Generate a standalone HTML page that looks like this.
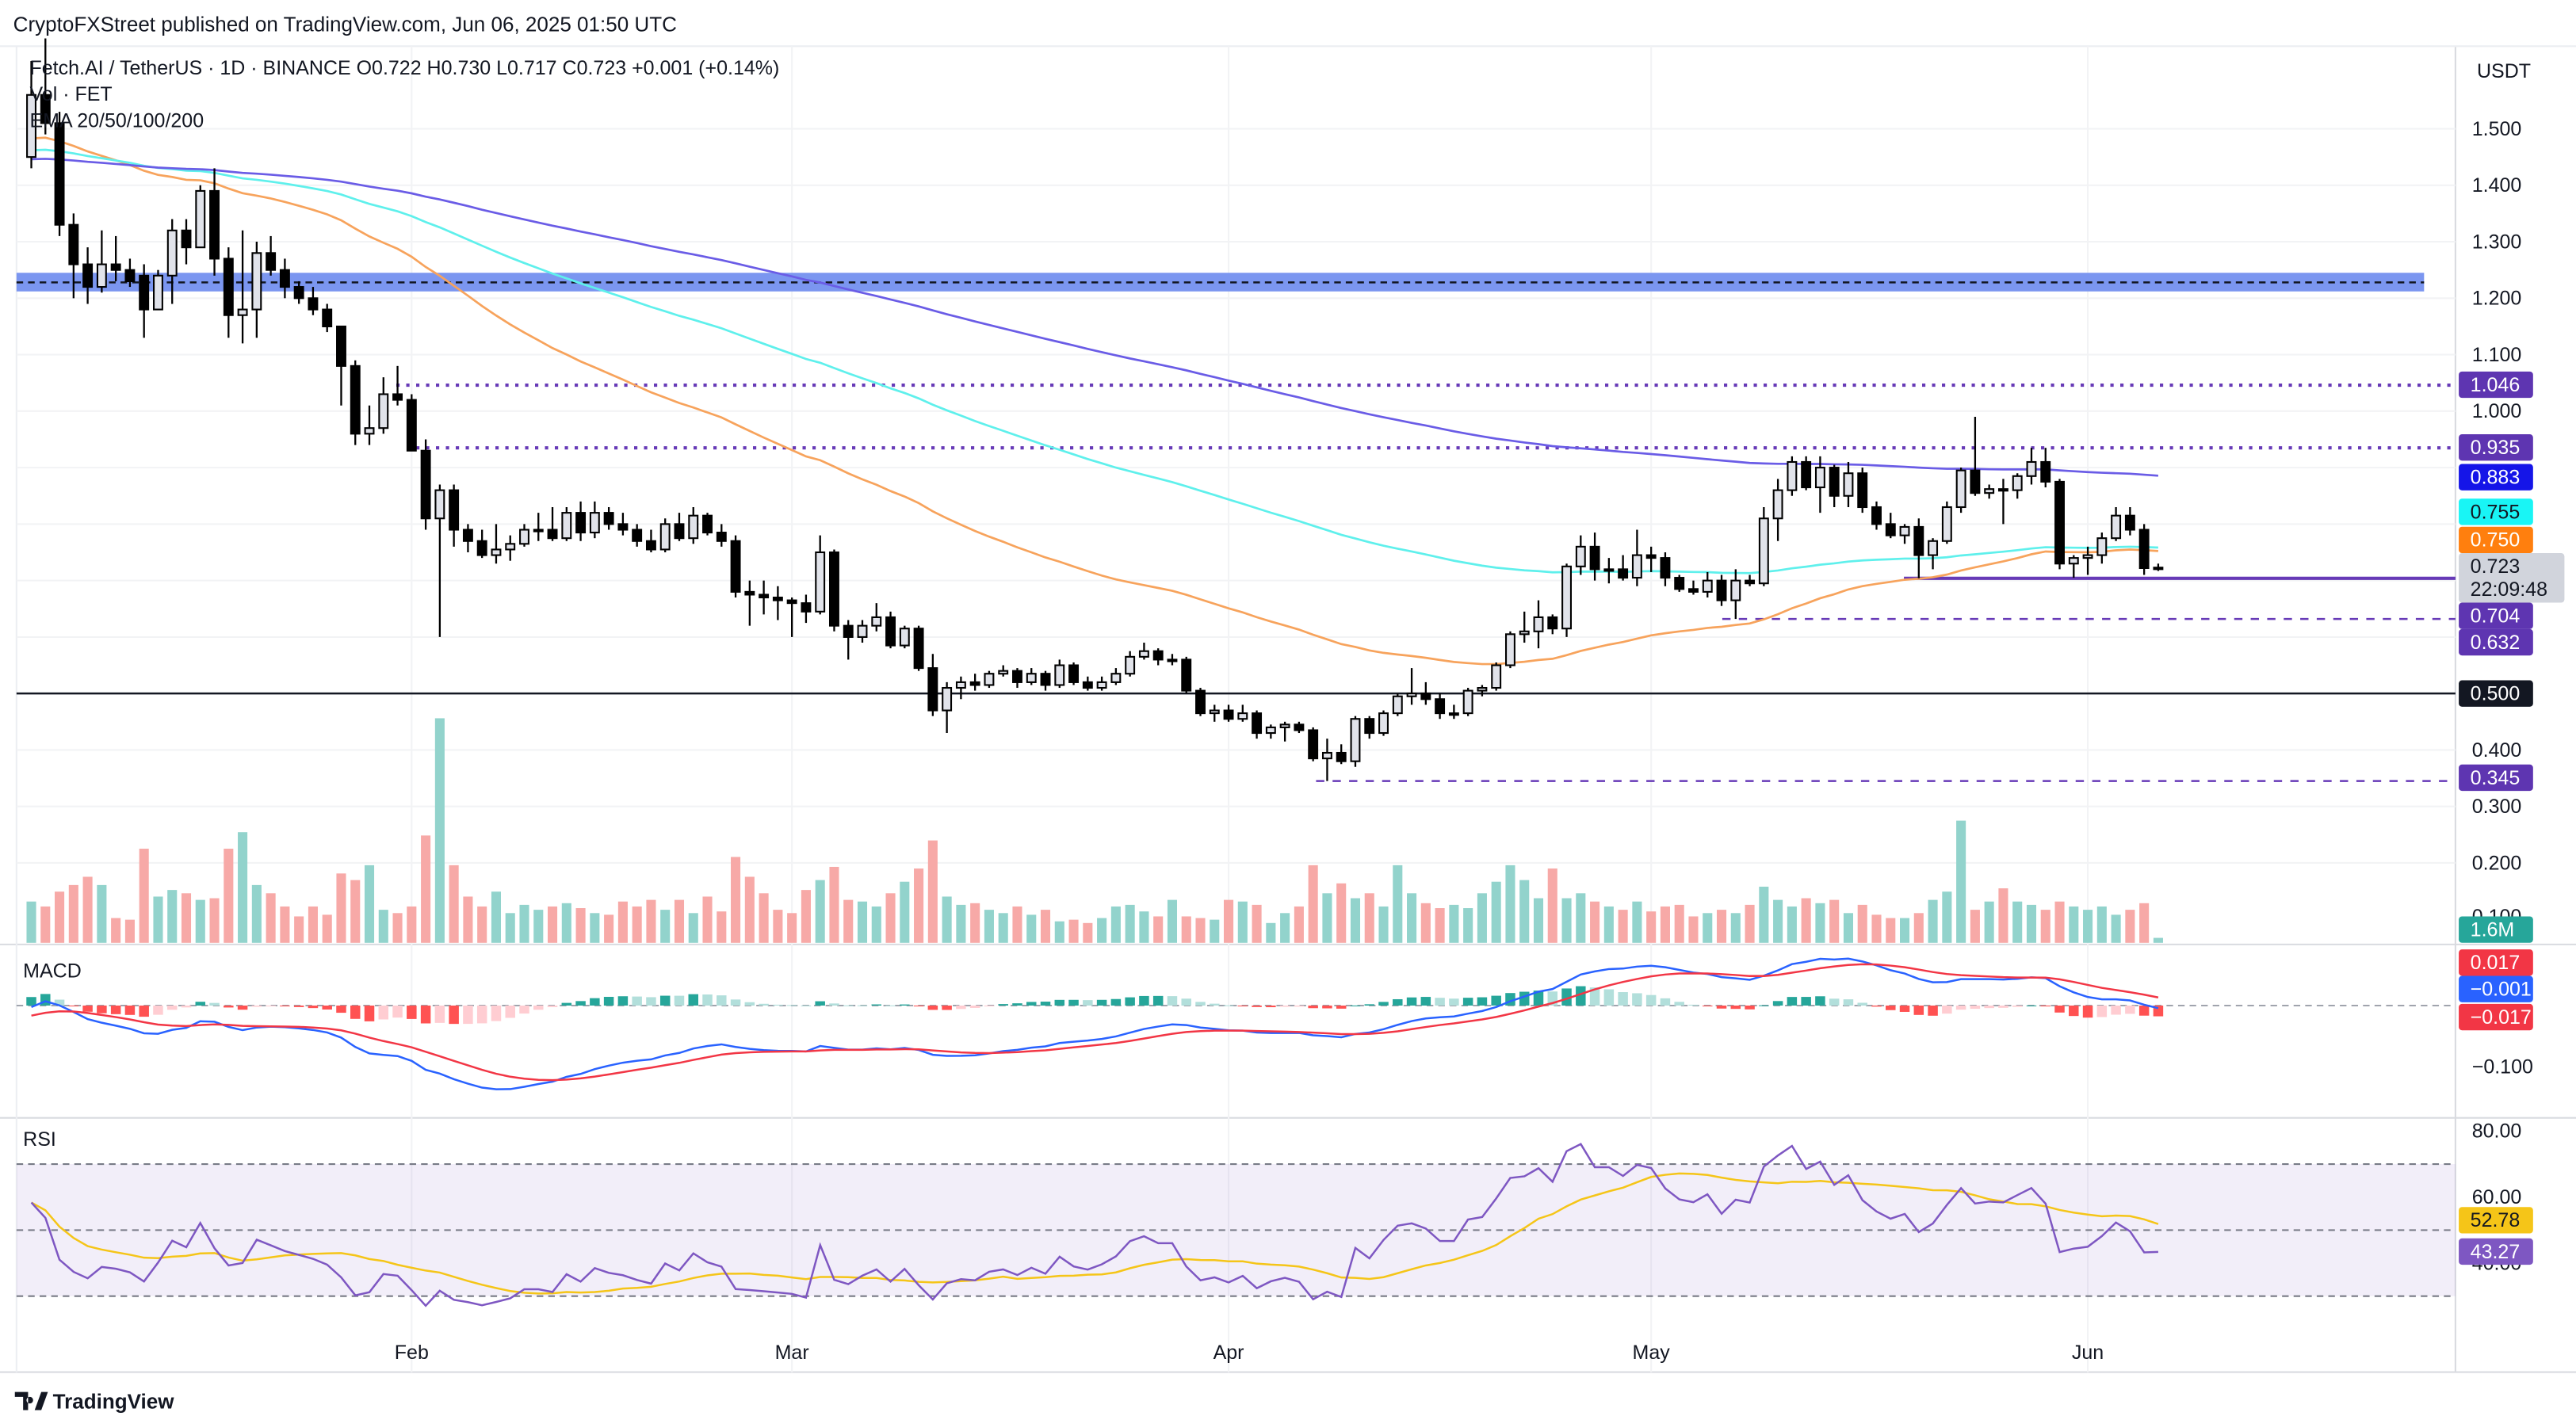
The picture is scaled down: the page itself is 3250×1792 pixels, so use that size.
<!DOCTYPE html>
<html><head><meta charset="utf-8"><style>
html,body{margin:0;padding:0;background:#fff;}
svg{display:block;font-family:"Liberation Sans",sans-serif;}
</style></head><body>
<svg id="chart" width="3250" height="1792" viewBox="0 0 1560 860" preserveAspectRatio="none" xmlns="http://www.w3.org/2000/svg">
<rect x="0" y="0" width="1560" height="860" fill="#ffffff"/>
<text x="8" y="19" font-size="12.5" fill="#131722">CryptoFXStreet published on TradingView.com, Jun 06, 2025 01:50 UTC</text>
<g id="grid"></g>
<g id="zones"></g>
<g id="plot"></g>
<g id="axis"></g>
<g font-size="12" fill="#131722">
<text x="18" y="45">Fetch.AI / TetherUS · 1D · BINANCE  O0.722  H0.730  L0.717  C0.723  +0.001 (+0.14%)</text>
<text x="18" y="61">Vol · FET</text>
<text x="18" y="77">EMA 20/50/100/200</text>
<text x="14" y="592">MACD</text>
<text x="14" y="694">RSI</text>
</g>
<g>
<path d="M9 843h8v11h-3v-8h-5z M18 846a2 2 0 1 0 0.1 0z M21 854l4-11h4l-4 11z" fill="#131722"/>
<text x="32" y="853" font-size="12.5" font-weight="bold" fill="#131722">TradingView</text>
</g>
</svg>
<script>
const opens=[1.45,1.56,1.51,1.33,1.26,1.22,1.26,1.25,1.24,1.18,1.24,1.32,1.29,1.39,1.27,1.17,1.18,1.28,1.25,1.22,1.20,1.18,1.15,1.08,0.96,0.97,1.03,1.02,0.93,0.81,0.86,0.79,0.77,0.745,0.755,0.765,0.79,0.79,0.775,0.82,0.785,0.82,0.80,0.79,0.77,0.755,0.80,0.775,0.815,0.785,0.77,0.68,0.675,0.67,0.665,0.66,0.645,0.75,0.62,0.60,0.62,0.635,0.585,0.615,0.545,0.47,0.51,0.52,0.515,0.535,0.54,0.52,0.535,0.515,0.55,0.52,0.51,0.52,0.535,0.565,0.575,0.56,0.56,0.505,0.465,0.47,0.455,0.465,0.43,0.44,0.445,0.435,0.385,0.395,0.38,0.455,0.43,0.465,0.495,0.50,0.49,0.465,0.465,0.505,0.51,0.55,0.605,0.61,0.635,0.615,0.725,0.76,0.72,0.72,0.705,0.745,0.74,0.705,0.685,0.68,0.70,0.665,0.70,0.695,0.81,0.86,0.91,0.865,0.90,0.85,0.89,0.83,0.80,0.78,0.795,0.745,0.77,0.83,0.895,0.855,0.862,0.86,0.885,0.91,0.875,0.73,0.74,0.745,0.775,0.815,0.79,0.722];
const highs=[1.62,1.66,1.53,1.35,1.29,1.32,1.31,1.27,1.26,1.25,1.34,1.34,1.40,1.43,1.29,1.32,1.30,1.31,1.27,1.23,1.22,1.19,1.15,1.09,1.01,1.06,1.08,1.03,0.95,0.87,0.87,0.80,0.79,0.80,0.78,0.80,0.82,0.83,0.83,0.84,0.84,0.83,0.82,0.80,0.79,0.81,0.82,0.83,0.82,0.80,0.78,0.70,0.70,0.69,0.67,0.675,0.78,0.755,0.63,0.63,0.66,0.645,0.62,0.62,0.57,0.52,0.53,0.535,0.54,0.55,0.545,0.545,0.54,0.56,0.555,0.53,0.53,0.545,0.575,0.59,0.58,0.57,0.565,0.51,0.48,0.48,0.48,0.47,0.445,0.45,0.45,0.44,0.42,0.41,0.46,0.46,0.47,0.50,0.545,0.52,0.50,0.48,0.51,0.515,0.555,0.61,0.645,0.665,0.64,0.73,0.78,0.785,0.74,0.745,0.79,0.76,0.75,0.71,0.70,0.715,0.71,0.72,0.71,0.83,0.88,0.92,0.92,0.92,0.905,0.91,0.90,0.84,0.82,0.80,0.81,0.775,0.84,0.90,0.99,0.87,0.88,0.89,0.935,0.935,0.88,0.745,0.76,0.785,0.83,0.83,0.80,0.730];
const lows=[1.43,1.49,1.31,1.20,1.19,1.21,1.23,1.22,1.13,1.18,1.19,1.26,1.29,1.24,1.13,1.12,1.13,1.24,1.20,1.19,1.17,1.14,1.01,0.94,0.94,0.96,1.01,0.93,0.79,0.60,0.76,0.75,0.74,0.73,0.735,0.76,0.77,0.77,0.77,0.77,0.775,0.79,0.78,0.76,0.75,0.75,0.77,0.765,0.78,0.76,0.67,0.62,0.64,0.63,0.60,0.625,0.64,0.61,0.56,0.59,0.61,0.58,0.58,0.54,0.46,0.43,0.49,0.505,0.51,0.53,0.51,0.515,0.505,0.51,0.515,0.505,0.505,0.515,0.53,0.56,0.55,0.55,0.50,0.46,0.45,0.45,0.45,0.42,0.42,0.415,0.43,0.38,0.345,0.375,0.37,0.42,0.425,0.46,0.48,0.48,0.455,0.455,0.46,0.495,0.505,0.545,0.59,0.58,0.605,0.60,0.71,0.70,0.695,0.70,0.69,0.715,0.69,0.68,0.675,0.67,0.655,0.632,0.69,0.69,0.77,0.85,0.86,0.82,0.83,0.83,0.82,0.79,0.775,0.765,0.704,0.72,0.765,0.82,0.85,0.845,0.80,0.845,0.87,0.865,0.72,0.705,0.71,0.73,0.77,0.78,0.71,0.717];
const closes=[1.56,1.51,1.33,1.26,1.22,1.26,1.25,1.23,1.18,1.24,1.32,1.29,1.39,1.27,1.17,1.18,1.28,1.25,1.22,1.20,1.18,1.15,1.08,0.96,0.97,1.03,1.02,0.93,0.81,0.86,0.79,0.77,0.745,0.755,0.765,0.79,0.79,0.775,0.82,0.785,0.82,0.80,0.79,0.77,0.755,0.80,0.775,0.815,0.785,0.77,0.68,0.675,0.67,0.665,0.66,0.645,0.75,0.62,0.60,0.62,0.635,0.585,0.615,0.545,0.47,0.51,0.52,0.515,0.535,0.54,0.52,0.535,0.515,0.55,0.52,0.51,0.52,0.535,0.565,0.575,0.56,0.56,0.505,0.465,0.47,0.455,0.465,0.43,0.44,0.445,0.435,0.385,0.395,0.38,0.455,0.43,0.465,0.495,0.50,0.49,0.465,0.465,0.505,0.51,0.55,0.605,0.61,0.635,0.615,0.725,0.76,0.72,0.72,0.705,0.745,0.74,0.705,0.685,0.68,0.70,0.665,0.70,0.695,0.81,0.86,0.91,0.865,0.90,0.85,0.89,0.83,0.80,0.78,0.795,0.745,0.77,0.83,0.895,0.855,0.862,0.86,0.885,0.91,0.875,0.73,0.74,0.745,0.775,0.815,0.79,0.722,0.723];
const volumes=[25,22,31,35,40,35,15,14,57,28,32,30,26,27,57,67,35,30,22,16,22,17,42,38,47,20,18,22,65,136,47,28,22,31,18,23,20,22,24,21,18,17,25,22,26,20,26,18,28,19,52,40,30,20,18,32,38,46,26,25,22,30,37,45,62,28,23,24,20,18,22,17,20,13,14,12,15,22,23,19,16,26,16,15,14,26,25,23,12,18,22,47,30,36,27,30,22,47,30,24,21,23,21,30,37,47,38,27,45,27,30,25,22,20,25,19,22,23,16,18,20,18,23,34,26,22,27,24,26,18,23,17,15,15,18,26,31,74,20,25,33,25,23,20,25,22,20,22,17,20,24,3];
const monthLabels=["Feb","Mar","Apr","May","Jun"];
const monthIndex=[27,54,85,115,146];
const priceTicks=[1.5,1.4,1.3,1.2,1.1,1.0,0.4,0.3,0.2];
const emaSeeds=[1.48,1.46,1.445];

const NS="http://www.w3.org/2000/svg";
const plot=document.getElementById('plot'),grid=document.getElementById('grid'),zones=document.getElementById('zones'),axis=document.getElementById('axis');
function el(t,a,p){const e=document.createElementNS(NS,t);for(const k in a)e.setAttribute(k,a[k]);(p||plot).appendChild(e);return e;}
const N=closes.length, DX=8.53, XL=1307;
const xOf=i=>XL-(N-1-i)*DX;
const yP=p=>249+(1-p)*342;
const yM=m=>609-m*370;
const yR=r=>745-(r-50)*2;
const VB=571;

[572,677,831].forEach(y=>{const l=el('line',{x1:0,x2:1560,y1:y,y2:y,stroke:'#d9dbe0','stroke-width':1},grid);});
el('line',{x1:1487,x2:1487,y1:28,y2:831,stroke:'#d9dbe0'},grid);
el('line',{x1:10,x2:10,y1:28,y2:831,stroke:'#eceef2'},grid);
el('line',{x1:0,x2:1560,y1:28,y2:28,stroke:'#eceef2'},grid);
for(let p=0.2;p<=1.55;p+=0.1){el('line',{x1:10,x2:1487,y1:yP(p),y2:yP(p),stroke:'#f2f3f5'},grid);}
monthIndex.forEach((mi,k)=>{const x=xOf(mi);el('line',{x1:x,x2:x,y1:28,y2:831,stroke:'#f2f3f5'},grid);
 const t=el('text',{x:x,y:823,'font-size':12,'text-anchor':'middle',fill:'#131722'},axis);t.textContent=monthLabels[k];
 });

const zr=el('rect',{x:10,y:yP(1.245),width:1458,height:yP(1.212)-yP(1.245),fill:'#7b96f0'},zones);

el('line',{x1:10,x2:1468,y1:yP(1.228),y2:yP(1.228),stroke:'#131722','stroke-dasharray':'4 3','stroke-width':1.2},zones);
function hl(p,x1,dash,w,col,name){const l=el('line',{x1:x1,x2:1487,y1:yP(p),y2:yP(p),stroke:col,'stroke-width':w},zones);if(dash)l.setAttribute('stroke-dasharray',dash);}
hl(1.046,240,'2 4',2,'#673ab7','level-1-046');
hl(0.935,252,'2 4',2,'#673ab7','level-0-935');
hl(0.704,1153,'',2,'#673ab7','support-0-704');
hl(0.632,1043,'5 5',1.2,'#673ab7','level-0-632');
hl(0.5,10,'',1.2,'#131722','level-0-500');
hl(0.345,797,'5 5',1.2,'#673ab7','level-0-345');

const emaPeriods=[50,100,200], emaColors=['#f7a35c','#5ff0ec','#6a5ce6'];
const emaNames=['ema-50-line','ema-100-line','ema-200-line'];
emaPeriods.forEach((P,k)=>{let e=emaSeeds[k];const kk=2/(P+1);let d='';
 for(let i=0;i<N;i++){e=e+kk*(closes[i]-e);d+=(i?'L':'M')+xOf(i).toFixed(1)+' '+yP(e).toFixed(1);}
 const pth=el('path',{d:d,fill:'none',stroke:emaColors[k],'stroke-width':1.3});
 });

for(let i=0;i<N;i++){const up=closes[i]>=opens[i];const x=xOf(i);const v=volumes[i]||15;
 const vb=el('rect',{x:x-2.9,y:VB-v,width:5.8,height:v,fill:up?'#92d3cc':'#f7a9a7'});
 }
for(let i=0;i<N;i++){const up=closes[i]>=opens[i];const x=xOf(i);
 el('line',{x1:x,x2:x,y1:yP(highs[i]),y2:yP(lows[i]),stroke:'#000','stroke-width':1.1});
 const top=yP(Math.max(opens[i],closes[i])),bot=yP(Math.min(opens[i],closes[i]));
 const c=el('rect',{x:x-2.6,y:top,width:5.2,height:Math.max(bot-top,1),fill:up?'#e1e3ea':'#000',stroke:'#000','stroke-width':1});
 }

el('line',{x1:10,x2:1487,y1:609,y2:609,stroke:'#a0a4ad','stroke-dasharray':'4 3'},zones);
let e12=1.36,e26=1.38,sig=-0.02,macd=[],sg=[];
for(let i=0;i<N;i++){e12+=2/13*(closes[i]-e12);e26+=2/27*(closes[i]-e26);const m=e12-e26;sig+=2/10*(m-sig);macd.push(m);sg.push(sig);}
let prevH=0;
for(let i=0;i<N;i++){const h=macd[i]-sg[i];const x=xOf(i);const rising=h>=prevH;prevH=h;
 const col=h>=0?(rising?'#26a69a':'#b2dfdb'):(rising?'#ffcdd2':'#ff5252');
 const y0=yM(0),y1=yM(h);const hb=el('rect',{x:x-3,y:Math.min(y0,y1),width:6,height:Math.max(Math.abs(y1-y0),0.5),fill:col});
 }
function line(arr,f,col,name){let d='';arr.forEach((v,i)=>{d+=(i?'L':'M')+xOf(i).toFixed(1)+' '+f(v).toFixed(1);});const p=el('path',{d:d,fill:'none',stroke:col,'stroke-width':1.2});}
line(macd,yM,'#2962ff','macd-line');
line(sg,yM,'#f23645','signal-line');

el('rect',{x:10,y:yR(70),width:1477,height:yR(30)-yR(70),fill:'#7e57c2','fill-opacity':0.1},zones);
[70,50,30].forEach(r=>el('line',{x1:10,x2:1487,y1:yR(r),y2:yR(r),stroke:'#787b86','stroke-dasharray':'4 3'},zones));
let ag=0.028,al=0.02,rsi=[];
for(let i=0;i<N;i++){const ch=i?closes[i]-closes[i-1]:0;ag=(ag*13+Math.max(ch,0))/14;al=(al*13+Math.max(-ch,0))/14;rsi.push(100-100/(1+ag/al));}
const rma=rsi.map((v,i)=>{const s=rsi.slice(Math.max(0,i-13),i+1);return s.reduce((a,b)=>a+b,0)/s.length;});
line(rma,yR,'#f5c518','rsi-ma-line');
line(rsi,yR,'#7e57c2','rsi-line');

function tl(txt,y,name){const t=el('text',{x:1497,y:y+4,'font-size':12,fill:'#131722'},axis);t.textContent=txt;}
priceTicks.forEach(p=>tl(p.toFixed(3),yP(p),'y-tick-label'));
tl('0.100',555,'volume-tick');tl('−0.100',646,'macd-tick');tl('80.00',685,'rsi-tick');tl('60.00',725,'rsi-tick');tl('40.00',765,'rsi-tick');
const ub=el('text',{x:1500,y:47,'font-size':12,fill:'#131722'},axis);ub.textContent='USDT';

function box(txt,y,bg,fg,name,h){h=h||16;const g=el('g',{},axis);
 el('rect',{x:1489,y:y-h/2,width:45,height:h,rx:2,fill:bg},g);const t=el('text',{x:1496,y:y+4,'font-size':12,fill:fg},g);t.textContent=txt;return g;}
box('1.046',233,'#5e35b1','#fff','label-1-046');
box('0.935',271,'#5e35b1','#fff','label-0-935');
box('0.883',289,'#1515e8','#fff','label-ema200');
box('0.755',310,'#19f5f5','#131722','label-ema100');
box('0.750',327,'#ff7f0e','#fff','label-ema50');
{const g=el('g',{},axis);
 el('rect',{x:1489,y:335,width:64,height:30,rx:2,fill:'#d1d4dc'},g);
 const t1=el('text',{x:1496,y:347,'font-size':12,fill:'#131722'},g);t1.textContent='0.723';
 const t2=el('text',{x:1496,y:361,'font-size':12,fill:'#131722'},g);t2.textContent='22:09:48';}
box('0.704',373,'#5e35b1','#fff','label-0-704');
box('0.632',389,'#5e35b1','#fff','label-0-632');
box('0.500',420,'#131722','#fff','label-0-500');
box('0.345',471,'#5e35b1','#fff','label-0-345');
box('1.6M',563,'#26a69a','#fff','volume-label');
box('0.017',583,'#f23645','#fff','signal-value-label');
box('−0.001',599,'#2962ff','#fff','macd-value-label');
box('−0.017',616,'#f23645','#fff','histogram-value-label');
box('52.78',739,'#f5c518','#131722','rsi-ma-value-label');
box('43.27',758,'#7e57c2','#fff','rsi-value-label');
</script>
</body></html>
